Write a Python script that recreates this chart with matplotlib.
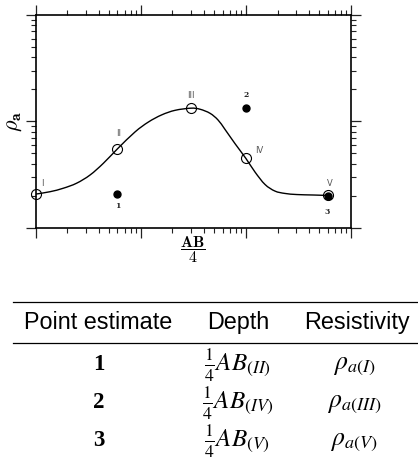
import numpy as np
import matplotlib
matplotlib.use("Agg")
import matplotlib.pyplot as plt
from matplotlib.path import Path
from matplotlib.patches import PathPatch
from matplotlib.ticker import LogLocator, NullFormatter

# ---- data ----
station_labels = ["I", "II", "III", "IV", "V"]
station_x = [1.0, 6.0, 30.0, 100.0, 600.0]
station_y = [2.07, 5.5, 13.3, 4.48, 2.01]

estimate_labels = ["1", "2", "3"]
estimate_x = [6.0, 100.0, 600.0]
estimate_y = [2.07, 13.3, 2.0]

curve_x = [1.0, 1.37, 1.83, 2.45, 3.29, 4.40, 5.98, 8.81, 11.8, 15.8,
           21.2, 30.0, 36.6, 45.6, 54.3, 63.2, 78.8, 100.0, 122.0,
           152.0, 189.0, 235.0, 306.0, 435.0, 600.0]
curve_y = [2.07, 2.18, 2.35, 2.62, 3.13, 4.03, 5.50, 7.95, 9.85, 11.5,
           12.7, 13.3, 13.0, 11.9, 10.3, 8.41, 6.17, 4.48, 3.34,
           2.55, 2.21, 2.10, 2.05, 2.03, 2.01]

table_header = ["Point estimate", "Depth", "Resistivity"]
table_points = ["1", "2", "3"]
table_depth = ["II", "IV", "V"]
table_resist = ["I", "III", "V"]

# ---- figure ----
W, H = 418, 462
fig = plt.figure(figsize=(W / 100, H / 100), dpi=100)
ax = fig.add_axes([35.7 / W, 1 - 227.7 / H, (351 - 35.7) / W, (227.7 - 15) / H])
ax.set_xscale("log")
ax.set_yscale("log")
ax.set_xlim(1, 1000)
ax.set_ylim(1, 100)

# smooth curve: Catmull-Rom Bezier in log space through the read points
P = np.column_stack([np.log10(curve_x), np.log10(curve_y)])
Pe = np.vstack([P[0], P, P[-1]])
verts = [P[0]]
codes = [Path.MOVETO]
for i in range(len(P) - 1):
    p0, p1, p2, p3 = Pe[i], Pe[i + 1], Pe[i + 2], Pe[i + 3]
    c1 = p1 + (p2 - p0) / 6.0
    c2 = p2 - (p3 - p1) / 6.0
    verts += [c1, c2, p2]
    codes += [Path.CURVE4] * 3
verts = 10 ** np.array(verts)
ax.add_patch(PathPatch(Path(verts, codes), fill=False, edgecolor="black",
                       lw=1.0, zorder=2, transform=ax.transData))

ax.plot(station_x, station_y, "o", ms=7.2, mfc="none", mec="black", mew=0.8,
        zorder=3, clip_on=False)
ax.plot(estimate_x, estimate_y, "o", ms=5.0, color="black", zorder=4, clip_on=False)

st_off = [(5, 11), (1, 15), (0, 13), (9, 8), (2.5, 12)]
for lab, x, y, (dx, dy) in zip(station_labels, station_x, station_y, st_off):
    ax.annotate(lab, (x, y), xytext=(dx * 0.72, dy * 0.72), textcoords="offset points",
                ha="left" if dx > 3 else "center", va="center", fontsize=6,
                color="#555555", family="DejaVu Sans")
est_off = [(0, -12), (0, 13), (-1, -16)]
for lab, x, y, (dx, dy) in zip(estimate_labels, estimate_x, estimate_y, est_off):
    ax.annotate(lab, (x, y), xytext=(dx * 0.72, dy * 0.72), textcoords="offset points",
                ha="center", va="center", fontsize=5.5, color="#222222",
                family="DejaVu Serif", weight="bold")

for s in ax.spines.values():
    s.set_linewidth(1.2)
ax.xaxis.set_major_locator(LogLocator(base=10, numticks=10))
ax.yaxis.set_major_locator(LogLocator(base=10, numticks=10))
ax.xaxis.set_minor_locator(LogLocator(base=10, subs=np.arange(2, 10), numticks=10))
ax.yaxis.set_minor_locator(LogLocator(base=10, subs=np.arange(2, 10), numticks=10))
for a in (ax.xaxis, ax.yaxis):
    a.set_major_formatter(NullFormatter())
    a.set_minor_formatter(NullFormatter())
ax.tick_params(which="both", direction="out", top=True, right=True, color="#222222")
ax.tick_params(which="major", length=7.2, width=0.9)
ax.tick_params(which="minor", length=3.6, width=0.8)


def fy(py):
    return 1 - py / H


def fx(px):
    return px / W


# axis labels
fig.text(fx(13.5), fy(121), r"$\rho_\mathbf{a}$", rotation=90, ha="center",
         va="center", fontsize=16, math_fontfamily="cm")
fig.text(fx(193), fy(250), r"$\dfrac{\mathbf{AB}}{\mathbf{4}}$", ha="center",
         va="center", fontsize=11.5, math_fontfamily="cm")

# ---- table ----
fig.add_artist(plt.Line2D([fx(12.7), 1.0], [fy(302), fy(302)], color="black", lw=0.9))
fig.add_artist(plt.Line2D([fx(12.7), 1.0], [fy(343), fy(343)], color="black", lw=0.9))

hx = [98, 238.5, 357]
for t, x in zip(table_header, hx):
    fig.text(fx(x), fy(322.5), t, ha="center", va="center", fontsize=16.8,
             family="Liberation Sans")

row_y = [364, 402, 440]
for p, d, r, y in zip(table_points, table_depth, table_resist, row_y):
    fig.text(fx(98.5), fy(y), p, ha="center", va="center", fontsize=16.5,
             family="Liberation Serif", weight="bold")
    fig.text(fx(237.5), fy(y + 1), r"$\frac{1}{4}AB_{(%s)}$" % d, ha="center",
             va="center", fontsize=18, math_fontfamily="stix")
    fig.text(fx(354), fy(y + 1), r"$\rho_{a(%s)}$" % r, ha="center",
             va="center", fontsize=18.5, math_fontfamily="stix")

fig.savefig("out.png", dpi=100)
